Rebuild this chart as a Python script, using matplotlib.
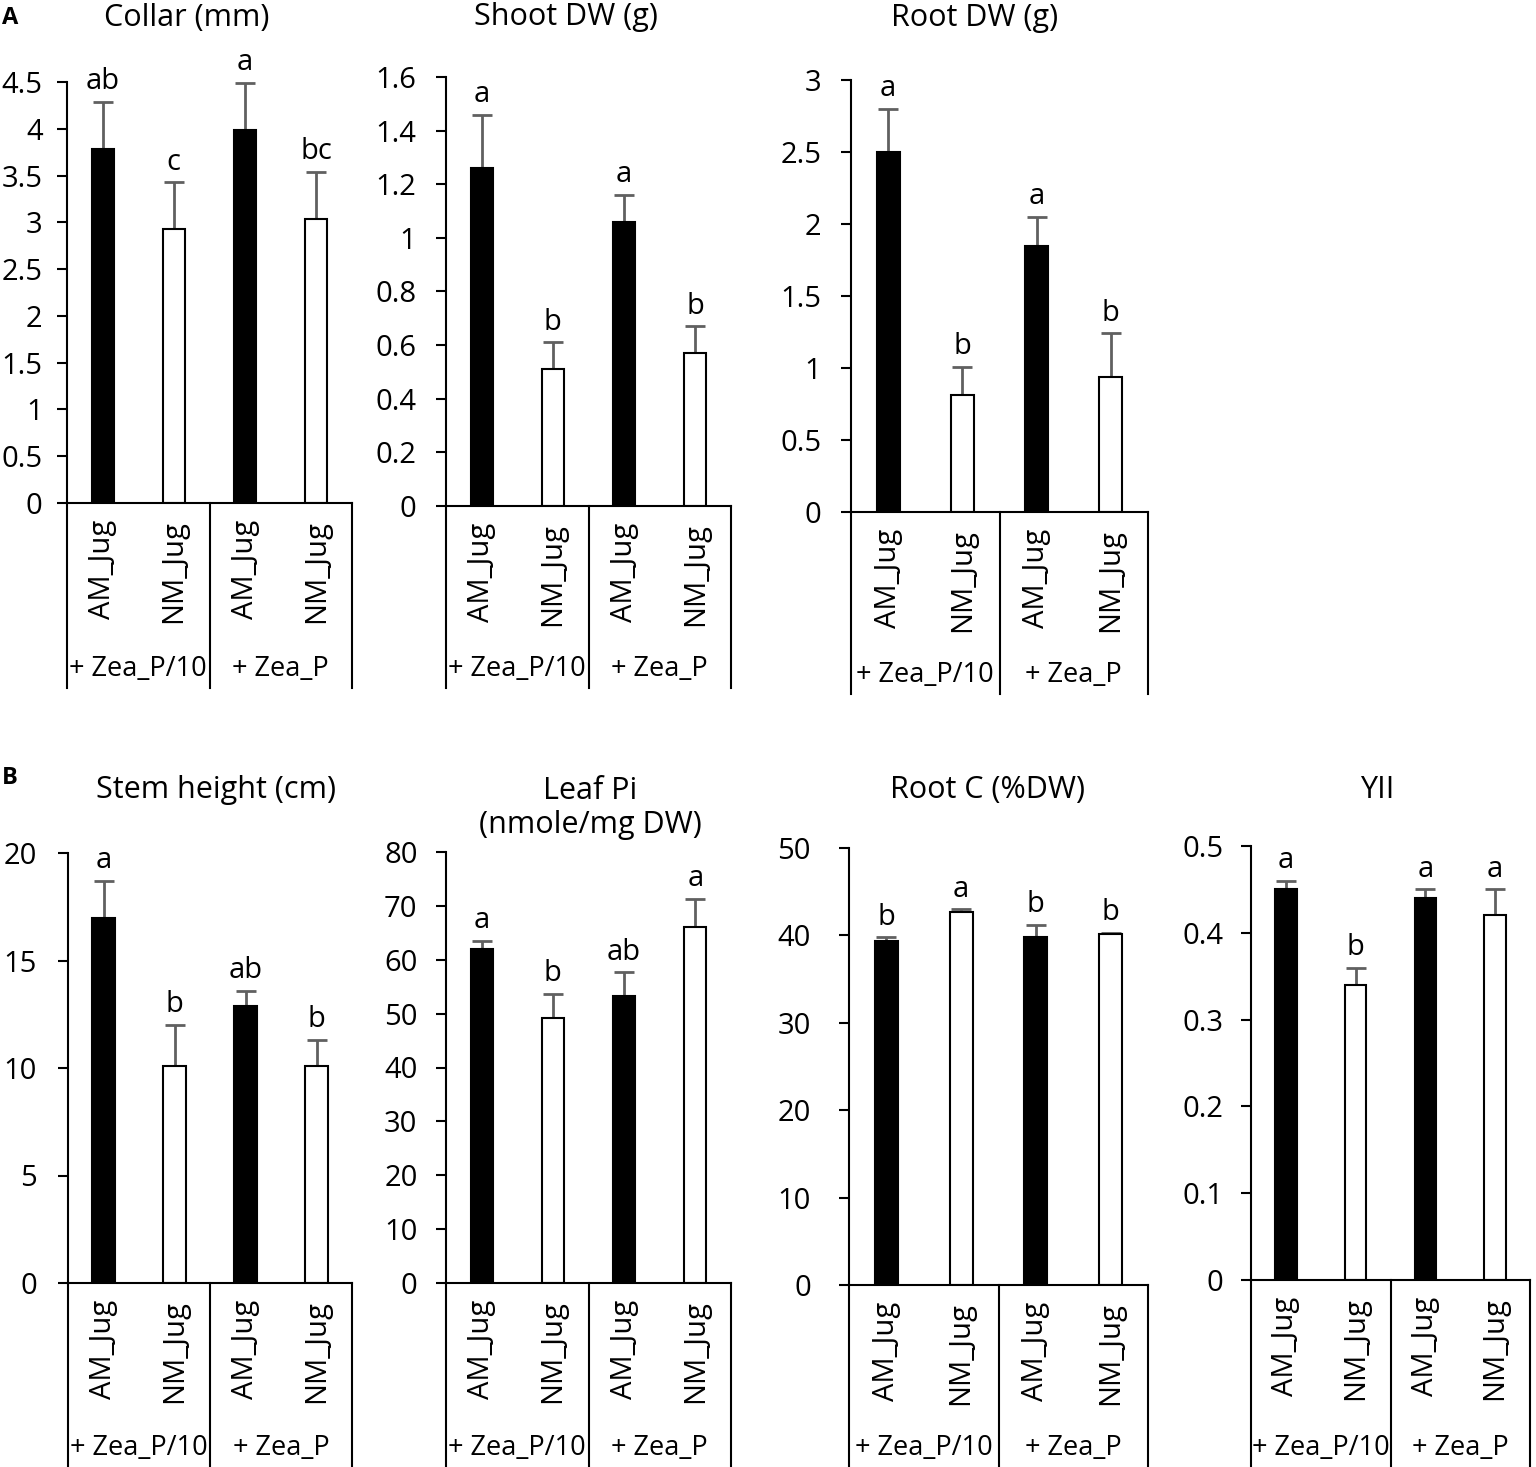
import matplotlib
matplotlib.use("Agg")
import matplotlib.pyplot as plt
import numpy as np

plt.rcParams["font.family"] = ["Open Sans", "DejaVu Sans"]

# ---------------------------------------------------------------------------
# Data
# ---------------------------------------------------------------------------
categories = ["AM_Jug", "NM_Jug", "AM_Jug", "NM_Jug"]
groups = ["+ Zea_P/10", "+ Zea_P"]
bar_colors = ["black", "white", "black", "white"]

collar_mean = [3.78, 2.93, 3.99, 3.04]
collar_err = [0.51, 0.50, 0.50, 0.50]
collar_letters = ["ab", "c", "a", "bc"]

shoot_mean = [1.26, 0.51, 1.06, 0.57]
shoot_err = [0.20, 0.10, 0.10, 0.10]
shoot_letters = ["a", "b", "a", "b"]

root_mean = [2.50, 0.81, 1.85, 0.94]
root_err = [0.30, 0.20, 0.20, 0.30]
root_letters = ["a", "b", "a", "b"]

stem_mean = [17.0, 10.1, 12.9, 10.1]
stem_err = [1.7, 1.9, 0.7, 1.2]
stem_letters = ["a", "b", "ab", "b"]

leafpi_mean = [62.0, 49.1, 53.3, 66.0]
leafpi_err = [1.5, 4.6, 4.4, 5.3]
leafpi_letters = ["a", "b", "ab", "a"]

rootc_mean = [39.4, 42.7, 39.8, 40.2]
rootc_err = [0.4, 0.3, 1.4, 0.1]
rootc_letters = ["b", "a", "b", "b"]

yii_mean = [0.45, 0.34, 0.44, 0.42]
yii_err = [0.01, 0.02, 0.01, 0.03]
yii_letters = ["a", "b", "a", "a"]

W, H = 1536, 1467

# (title, title x/y px, mean, err, letters, ymax, ystep, tick pad pt,
#  left px, right px, zero px, top px, box bottom px)
panels = [
    ("Collar (mm)", 187, 18, collar_mean, collar_err, collar_letters, 4.5, 0.5, 10,
     67, 352, 503, 82, 688),
    ("Shoot DW (g)", 566, 17, shoot_mean, shoot_err, shoot_letters, 1.6, 0.2, 14,
     446, 731, 506, 77, 688),
    ("Root DW (g)", 975, 18, root_mean, root_err, root_letters, 3, 0.5, 14,
     851, 1148, 512, 80, 694),
    ("Stem height (cm)", 216, 790, stem_mean, stem_err, stem_letters, 20, 5, 15,
     68, 352, 1283, 853, 1467),
    ("Leaf Pi\n(nmole/mg DW)", 590, 808, leafpi_mean, leafpi_err, leafpi_letters, 80, 10, 13,
     446, 731, 1283, 852, 1467),
    ("Root C (%DW)", 987, 790, rootc_mean, rootc_err, rootc_letters, 50, 10, 20,
     849, 1148, 1285, 848, 1467),
    ("YII", 1377, 790, yii_mean, yii_err, yii_letters, 0.5, 0.1, 12.5,
     1251, 1530, 1280, 846, 1467),
]

FS = 21
ERR_COLOR = "#606060"

fig = plt.figure(figsize=(W / 100, H / 100), dpi=100)

for (title, tx, ty, mean, err, letters, ymax, ystep, pad,
     left, right, zero, top, box) in panels:
    ax = fig.add_axes([left / W, (H - zero) / H, (right - left) / W, (zero - top) / H])
    x = np.arange(len(categories))
    ax.bar(x, mean, width=0.31, color=bar_colors, edgecolor="black", linewidth=1.5,
           zorder=2)
    ax.errorbar(x, mean, yerr=[np.zeros(len(err)), err], fmt="none",
                ecolor=ERR_COLOR, elinewidth=2, capsize=7, capthick=2, zorder=1)
    for xi, m, e, lab in zip(x, mean, err, letters):
        ax.annotate(lab, (xi, m + e), xytext=(0, 4), textcoords="offset points",
                    ha="center", va="bottom", fontsize=FS)

    ax.set_xlim(-0.5, len(categories) - 0.5)
    ax.set_ylim(0, ymax)
    ticks = np.arange(0, ymax + ystep / 2, ystep)
    ax.set_yticks(ticks)
    ax.set_yticklabels(["{:g}".format(round(t, 2)) for t in ticks], fontsize=FS)
    ax.tick_params(axis="y", direction="out", length=7.5, width=1.5, pad=pad)
    ax.set_xticks([])
    for s in ["top", "right", "bottom"]:
        ax.spines[s].set_visible(False)
    ax.spines["left"].set_linewidth(1.5)

    # category table under the axis
    depth = -(box - zero) / (zero - top)
    ax.plot([0, 1], [0, 0], color="black", lw=1.5, transform=ax.transAxes,
            clip_on=False)
    for xv in [0, 0.5, 1]:
        ax.plot([xv, xv], [0, depth], color="black", lw=1.5,
                transform=ax.transAxes, clip_on=False)
    for xi, cat in zip(x, categories):
        ax.annotate(cat, (xi, 0), xycoords=("data", "axes fraction"),
                    xytext=(0, -12), textcoords="offset points",
                    rotation=90, ha="center", va="top", fontsize=FS)
    for gi, g in enumerate(groups):
        ax.annotate(g, (gi * 2 + 0.5, depth), xycoords=("data", "axes fraction"),
                    xytext=(0, 14), textcoords="offset points",
                    ha="center", va="center", fontsize=19.5)

    fig.text(tx / W, 1 - ty / H, title, ha="center", va="center", fontsize=FS + 1,
             linespacing=1.2)

fig.text(2 / W, 1 - 18 / H, "A", fontsize=17, fontweight="bold", va="center")
fig.text(2 / W, 1 - 778 / H, "B", fontsize=17, fontweight="bold", va="center")

fig.savefig("out.png", dpi=100, facecolor="white")
